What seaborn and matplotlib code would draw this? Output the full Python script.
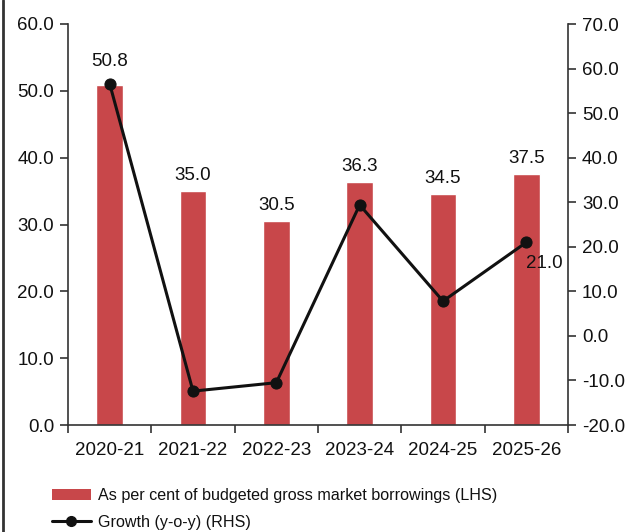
import numpy as np
import pandas as pd
import matplotlib
matplotlib.use("Agg")
import matplotlib.pyplot as plt
from matplotlib.patches import Patch
from matplotlib.lines import Line2D
import seaborn as sns

years = ["2020-21", "2021-22", "2022-23", "2023-24", "2024-25", "2025-26"]
share_of_gmb = [50.8, 35.0, 30.5, 36.3, 34.5, 37.5]
growth_yoy = [56.6, -12.4, -10.5, 29.4, 7.8, 21.0]

bar_color = "#C8474A"
ink = "#111111"
axis_grey = "#333333"

sns.set_theme(style="white")
plt.rcParams["font.family"] = ["Liberation Sans", "DejaVu Sans"]
plt.rcParams["font.size"] = 13.5

df = pd.DataFrame({"year": years, "share": share_of_gmb, "growth": growth_yoy,
                   "pos": np.arange(len(years))})

fig = plt.figure(figsize=(6.27, 5.32), dpi=100)
ax = fig.add_axes([68 / 627, 1 - 425 / 532, 500 / 627, 401 / 532])

sns.barplot(data=df, x="year", y="share", color=bar_color, saturation=1,
            width=0.32, ax=ax)
ax.set_xlim(-0.5, len(years) - 0.5)
ax.set_ylim(0, 60)
ax.set_yticks(np.arange(0, 61, 10))
ax.set_yticklabels([f"{v:.1f}" for v in np.arange(0, 61, 10)])
ax.set_xlabel("")
ax.set_ylabel("")

# Category boundaries carry the tick marks; labels sit at category centres
ax.set_xticks(np.arange(-0.5, len(years), 1.0))
ax.set_xticklabels([])
ax.set_xticks(np.arange(len(years)), minor=True)
ax.set_xticklabels(years, minor=True)
ax.tick_params(axis="x", which="major", direction="out", length=6, width=1.2,
               color=axis_grey, bottom=True)
ax.tick_params(axis="x", which="minor", length=0, pad=12, labelsize=13.5,
               labelcolor=ink)
ax.tick_params(axis="y", direction="out", length=6, width=1.2, color=axis_grey,
               left=True, labelsize=13.5, pad=4, labelcolor=ink)

for s in ["top", "right"]:
    ax.spines[s].set_visible(False)
for s in ["left", "bottom"]:
    ax.spines[s].set_color(axis_grey)
    ax.spines[s].set_linewidth(1.2)

# Bar value labels
for i, v in enumerate(share_of_gmb):
    off = 11 if i == 0 else 5
    ax.annotate(f"{v:.1f}", (i, v), xytext=(0, off), textcoords="offset points",
                ha="center", va="bottom", fontsize=13.5, color=ink)

# Growth line on the right-hand axis
ax2 = ax.twinx()
sns.lineplot(data=df, x="pos", y="growth", color=ink, linewidth=2.2,
             marker="o", markersize=8, markeredgecolor=ink, ax=ax2)
ax2.set_xlim(-0.5, len(years) - 0.5)
ax2.set_ylim(-20, 70)
ax2.set_yticks(np.arange(-20, 71, 10))
ax2.set_yticklabels([f"{v:.1f}" for v in np.arange(-20, 71, 10)])
ax2.set_xlabel("")
ax2.set_ylabel("")
ax2.tick_params(axis="y", direction="out", length=6, width=1.2, color=axis_grey,
                right=True, labelsize=13.5, pad=4, labelcolor=ink)
for s in ["top", "left", "bottom"]:
    ax2.spines[s].set_visible(False)
ax2.spines["right"].set_color(axis_grey)
ax2.spines["right"].set_linewidth(1.2)

last = len(years) - 1
ax2.annotate(f"{growth_yoy[last]:.1f}", (last, growth_yoy[last]), xytext=(0, -15),
             textcoords="offset points", ha="left", va="center", fontsize=13.5,
             color=ink)

handles = [Patch(facecolor=bar_color, edgecolor="none"),
           Line2D([0], [0], color=ink, linewidth=2.2, marker="o", markersize=7)]
labels = ["As per cent of budgeted gross market borrowings (LHS)", "Growth (y-o-y) (RHS)"]
fig.legend(handles, labels, loc="upper left", bbox_to_anchor=(52 / 627, 1 - 488 / 532),
           frameon=False, fontsize=11.6, handlelength=2.4, handleheight=0.65,
           handletextpad=0.45, labelspacing=0.74, borderaxespad=0, borderpad=0,
           labelcolor=ink)

# Frame edge on the left of the panel
fig.add_artist(Line2D([2.5 / 627, 2.5 / 627], [0, 1], transform=fig.transFigure,
                      color=axis_grey, linewidth=2))

fig.savefig("out.png", dpi=100)
